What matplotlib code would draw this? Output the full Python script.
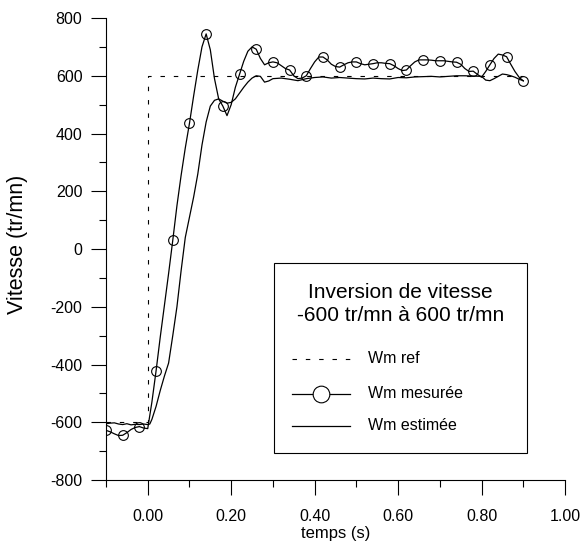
import matplotlib
matplotlib.use("Agg")
import matplotlib.pyplot as plt
from matplotlib.lines import Line2D
from matplotlib.patches import Rectangle
from matplotlib.ticker import MultipleLocator, FormatStrFormatter

plt.rcParams['font.family'] = ['Liberation Sans', 'DejaVu Sans']
plt.rcParams['axes.unicode_minus'] = False

# reference speed (step at t=0)
t_ref = [-0.10, 0.0, 0.0, 0.90]
w_ref = [-600, -600, 600, 600]

# measured speed, sampled every 0.01 s (circles every 4th point)
t_mes = [-0.10, -0.09, -0.08, -0.07, -0.06, -0.05, -0.04, -0.03, -0.02, -0.01,
         0.00, 0.01, 0.02, 0.03, 0.04, 0.05, 0.06, 0.07, 0.08, 0.09,
         0.10, 0.11, 0.12, 0.13, 0.14, 0.15, 0.16, 0.17, 0.18, 0.19,
         0.20, 0.21, 0.22, 0.23, 0.24, 0.25, 0.26, 0.27, 0.28, 0.29,
         0.30, 0.31, 0.32, 0.33, 0.34, 0.35, 0.36, 0.37, 0.38, 0.39,
         0.40, 0.41, 0.42, 0.43, 0.44, 0.45, 0.46, 0.47, 0.48, 0.49,
         0.50, 0.51, 0.52, 0.53, 0.54, 0.55, 0.56, 0.57, 0.58, 0.59,
         0.60, 0.61, 0.62, 0.63, 0.64, 0.65, 0.66, 0.67, 0.68, 0.69,
         0.70, 0.71, 0.72, 0.73, 0.74, 0.75, 0.76, 0.77, 0.78, 0.79,
         0.80, 0.81, 0.82, 0.83, 0.84, 0.85, 0.86, 0.87, 0.88, 0.89,
         0.90]
w_mes = [-628, -633, -640, -646, -645, -636, -625, -618, -615, -620,
         -622, -530, -422, -305, -195, -85, 30, 150, 255, 350,
         435, 530, 620, 700, 745, 690, 590, 520, 495, 462,
         500, 560, 605, 650, 685, 700, 692, 660, 638, 645,
         648, 645, 635, 625, 620, 600, 590, 592, 600, 625,
         648, 665, 665, 655, 640, 632, 630, 638, 645, 648,
         648, 642, 638, 640, 642, 645, 645, 643, 642, 635,
         625, 618, 620, 635, 648, 655, 655, 655, 654, 652,
         652, 652, 650, 648, 647, 640, 625, 615, 616, 605,
         595, 615, 638, 660, 675, 672, 666, 640, 615, 595,
         582]

# estimated speed
t_est = [-0.10, -0.09, -0.08, -0.07, -0.06, -0.05, -0.04, -0.03, -0.02, -0.01,
         0.00, 0.005, 0.01, 0.02, 0.03, 0.04, 0.05, 0.06, 0.07, 0.08, 0.09,
         0.10, 0.11, 0.12, 0.13, 0.14, 0.15, 0.16, 0.17, 0.18, 0.19,
         0.20, 0.21, 0.22, 0.23, 0.24, 0.25, 0.26, 0.27, 0.28, 0.29,
         0.30, 0.32, 0.34, 0.36, 0.38, 0.40, 0.42, 0.44, 0.46, 0.48,
         0.50, 0.52, 0.54, 0.56, 0.58, 0.60, 0.62, 0.64, 0.66, 0.68,
         0.70, 0.72, 0.74, 0.76, 0.78, 0.80, 0.81, 0.82, 0.83, 0.84,
         0.85, 0.86, 0.87, 0.88, 0.89, 0.90]
w_est = [-605, -603, -602, -606, -608, -605, -609, -607, -608, -606,
         -608, -606, -590, -545, -490, -440, -395, -300, -200, -75, 40,
         110, 180, 260, 360, 440, 495, 515, 520, 512, 505,
         508, 520, 540, 560, 578, 592, 600, 598, 578, 582,
         590, 592, 588, 583, 590, 594, 596, 592, 594, 592,
         590, 589, 592, 590, 589, 594, 593, 596, 597, 598,
         596, 598, 600, 600, 599, 598, 585, 583, 590, 598,
         606, 604, 600, 595, 588, 583]

fig = plt.figure(figsize=(5.85, 5.43), dpi=100)
ax = fig.add_axes([0.1812, 0.116, 0.7846, 0.8508])

ax.plot(t_ref, w_ref, color='black', lw=0.8, dashes=(4, 8))
ax.plot(t_mes, w_mes, color='black', lw=0.9, marker='o', markevery=4,
        markersize=7, markerfacecolor='none', markeredgewidth=0.8)
ax.plot(t_est, w_est, color='black', lw=0.9)

ax.set_xlim(-0.1, 1.0)
ax.set_ylim(-800, 800)
ax.xaxis.set_major_locator(MultipleLocator(0.2))
ax.xaxis.set_minor_locator(MultipleLocator(0.1))
ax.yaxis.set_major_locator(MultipleLocator(200))
ax.yaxis.set_minor_locator(MultipleLocator(100))
ax.xaxis.set_major_formatter(FormatStrFormatter('%.2f'))
ax.tick_params(which='major', direction='out', length=11, width=0.8, labelsize=11.5, pad=6)
ax.tick_params(axis='x', which='major', pad=10)
ax.tick_params(which='minor', direction='out', length=5, width=0.8)
ax.spines['top'].set_visible(False)
ax.spines['right'].set_visible(False)
ax.spines['left'].set_linewidth(0.8)
ax.spines['bottom'].set_linewidth(0.8)
ax.set_xlabel("temps (s)", fontsize=12, labelpad=1)
ax.set_ylabel("Vitesse (tr/mn)", fontsize=15.5)
ax.yaxis.set_label_coords(-0.170, 0.51)

# legend box drawn by hand
tr = ax.transAxes
ax.add_patch(Rectangle((0.366, 0.059), 0.551, 0.41, transform=tr, fill=False,
                       edgecolor='black', lw=0.8))
ax.text(0.641, 0.381, "Inversion de vitesse\n-600 tr/mn à 600 tr/mn", transform=tr,
        ha='center', va='center', fontsize=15, linespacing=1.3)
ax.add_line(Line2D([0.405, 0.532], [0.262, 0.262], transform=tr, color='black',
                   lw=0.8, dashes=(4, 8)))
ax.add_line(Line2D([0.405, 0.532], [0.187, 0.187], transform=tr, color='black', lw=0.9))
ax.add_line(Line2D([0.468], [0.187], transform=tr, color='black', marker='o',
                   markersize=12, markerfacecolor='white', markeredgewidth=0.8))
ax.add_line(Line2D([0.405, 0.532], [0.117, 0.117], transform=tr, color='black', lw=0.9))
for y, lab in [(0.262, "Wm ref"), (0.187, "Wm mesurée"), (0.117, "Wm estimée")]:
    ax.text(0.571, y, lab, transform=tr, ha='left', va='center', fontsize=11.5)

fig.savefig("out.png", dpi=100)
